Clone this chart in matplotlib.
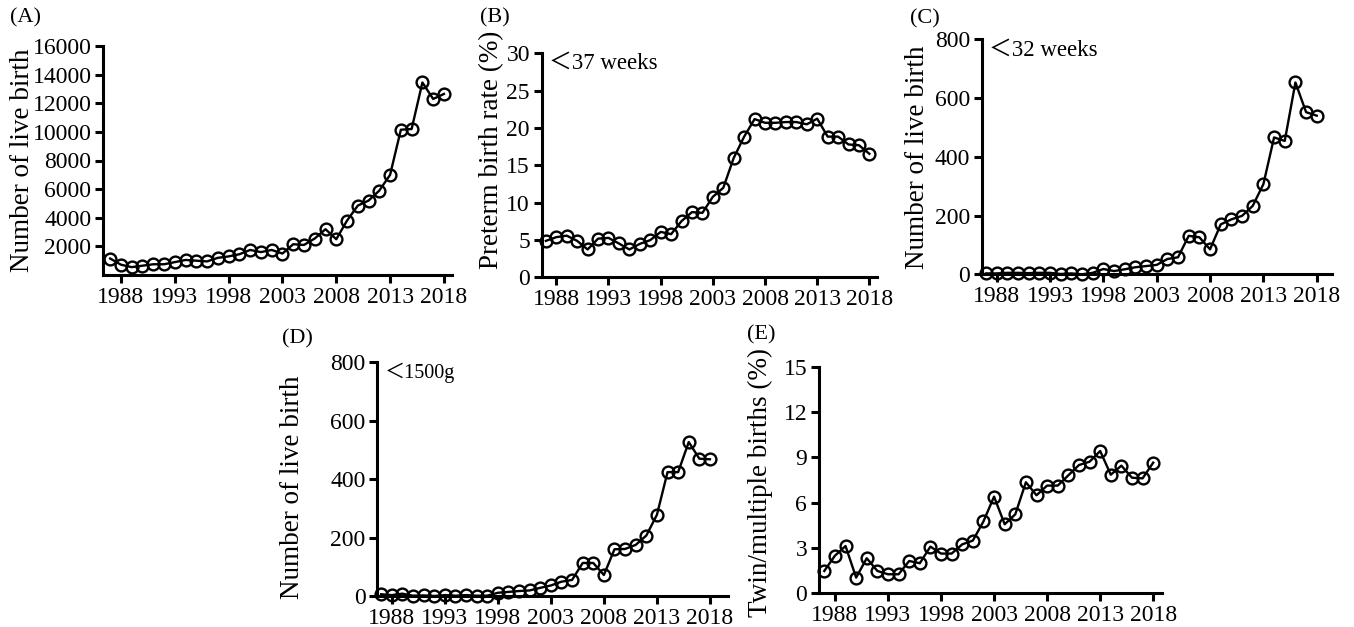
import matplotlib
matplotlib.use('Agg')
import matplotlib.pyplot as plt

plt.rcParams['font.family'] = ['Liberation Serif', 'Noto Sans CJK SC']

# ── Data ────────────────────────────────────────────────────────────────────
years = list(range(1987, 2019))
xticks = [1988, 1993, 1998, 2003, 2008, 2013, 2018]

live_births = [1150, 720, 550, 650, 750, 750, 900, 1050, 1000, 950,
               1200, 1300, 1450, 1750, 1600, 1750, 1500, 2150, 2100, 2550,
               3200, 2500, 3800, 4850, 5200, 5900, 7000, 10150, 10200, 13450,
               12300, 12650]
preterm_rate = [4.9, 5.4, 5.6, 4.9, 3.75, 5.2, 5.3, 4.55, 3.75, 4.5,
                5.0, 6.1, 5.8, 7.55, 8.75, 8.65, 10.8, 12.0, 16.0, 18.85,
                21.2, 20.7, 20.7, 20.8, 20.8, 20.5, 21.25, 18.85, 18.85, 17.8,
                17.7, 16.55]
under32 = [3, 3, 5, 5, 4, 5, 5, 1, 3, 0,
           5, 18, 11, 17, 24, 28, 32, 52, 58, 131,
           126, 85, 170, 187, 199, 233, 307, 466, 454, 653,
           552, 540]
under1500 = [6, 3, 8, 1, 2, 0, 3, 1, 3, 1,
             1, 11, 14, 17, 19, 28, 36, 49, 55, 113,
             113, 72, 160, 161, 175, 207, 278, 424, 424, 527,
             470, 468]
twin_rate = [1.48, 2.49, 3.13, 1.04, 2.32, 1.48, 1.26, 1.26, 2.14, 1.99,
             3.09, 2.63, 2.63, 3.24, 3.49, 4.76, 6.40, 4.57, 5.23, 7.35,
             6.49, 7.13, 7.13, 7.81, 8.49, 8.71, 9.42, 7.85, 8.45, 7.65,
             7.61, 8.65]

W, H = 1354, 627

# panel: tag, values, ylabel, yticks, ylim, xlim, box px (l, r, t, b),
#        ylabel coords, note (text, size), tag position px
PANELS = [
    ("(A)", live_births, "Number of live birth",
     list(range(2000, 16001, 2000)), (0, 16000), (1986.36, 2018.75),
     (103.3, 452, 46, 275), (-0.195, 0.5), None, (10, 18)),
    ("(B)", preterm_rate, "Preterm birth rate (%)",
     list(range(0, 31, 5)), (0, 30), (1986.6, 2018.7),
     (541.7, 876.7, 53.3, 277.5), (-0.112, 0.57), ("＜37 weeks", 16.5), (480, 18)),
    ("(C)", under32, "Number of live birth",
     list(range(0, 801, 200)), (0, 800), (1986.6, 2019.4),
     (981.7, 1331.7, 39.3, 274.3), (-0.148, 0.5), ("＜32 weeks", 16.5), (910, 19)),
    ("(D)", under1500, "Number of live birth",
     list(range(0, 801, 200)), (0, 800), (1986.64, 2019.7),
     (377.3, 728, 362.3, 596), (-0.205, 0.466), ("＜1500g", 14.5), (282, 339)),
    ("(E)", twin_rate, "Twin/multiple births (%)",
     list(range(0, 16, 3)), (0, 15), (1986.5, 2018.8),
     (819, 1161.7, 366.7, 593.3), (-0.135, 0.488), None, (747, 335)),
]

fig = plt.figure(figsize=(W / 100, H / 100), dpi=100)

for label, vals, ylab, yt, ylim, xlim, box, lab_xy, note, tag_xy in PANELS:
    l, r, t, b = box
    ax = fig.add_axes([l / W, 1 - b / H, (r - l) / W, (b - t) / H])
    ax.plot(years, vals, color="black", linewidth=1.7, marker="o",
            markersize=8.5, markerfacecolor="none", markeredgewidth=1.7,
            markeredgecolor="black", clip_on=False)
    ax.set_xlim(*xlim)
    ax.set_ylim(*ylim)
    ax.set_xticks(xticks)
    ax.set_yticks(yt)
    for side in ("top", "right"):
        ax.spines[side].set_visible(False)
    for side in ("left", "bottom"):
        ax.spines[side].set_linewidth(2.2)
    ax.tick_params(axis="both", width=2.2, length=5.5, labelsize=17, pad=3)
    ax.set_ylabel(ylab, fontsize=19.5)
    ax.yaxis.set_label_coords(*lab_xy)
    if note is not None:
        ax.text(0.022, 0.955, note[0], transform=ax.transAxes,
                fontsize=note[1], va="center", ha="left")
    fig.text(tag_xy[0] / W, 1 - tag_xy[1] / H, label, fontsize=16,
             va="center", ha="left")

plt.savefig("out.png", dpi=100)
